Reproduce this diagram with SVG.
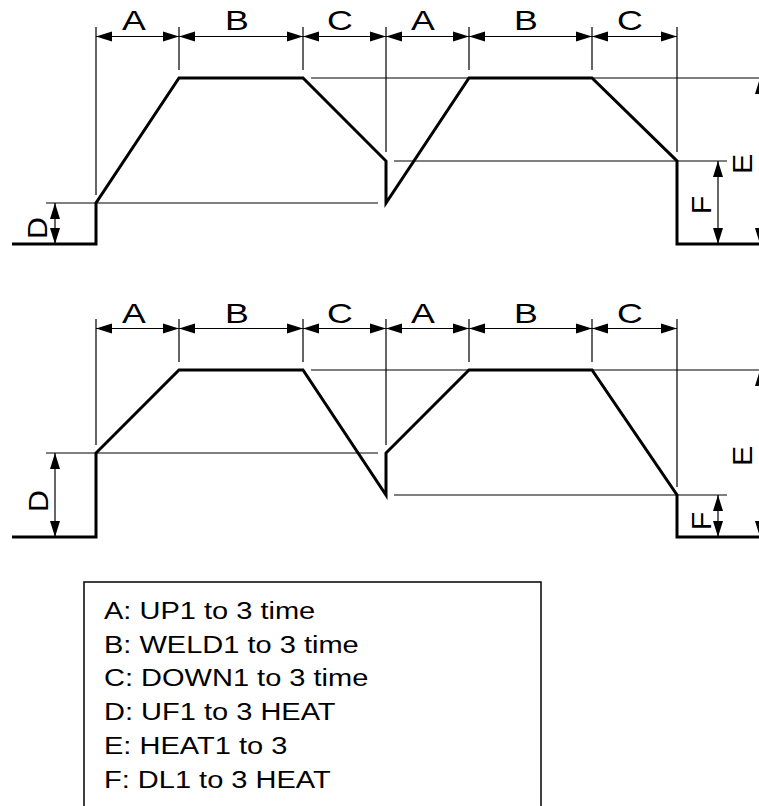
<svg xmlns="http://www.w3.org/2000/svg" width="759" height="806" viewBox="0 0 759 806">
<style>
.wave{fill:none;stroke:#000;stroke-width:3;stroke-linejoin:miter;stroke-linecap:butt}
.thin{fill:none;stroke:#000;stroke-width:1.2}
.dim{fill:none;stroke:#000;stroke-width:1.2;marker-start:url(#arr);marker-end:url(#arr)}
.lbl{font-family:"Liberation Sans",Arial,sans-serif;font-size:27.5px;fill:#000;text-anchor:middle}
.rl{font-family:"Liberation Sans",Arial,sans-serif;font-size:27.5px;fill:#000;text-anchor:middle}
.leg{font-family:"Liberation Sans",Arial,sans-serif;font-size:24.8px;fill:#000}
</style>
<defs>
<marker id="arr" viewBox="0 -5 16 10" refX="16" refY="0" markerWidth="16" markerHeight="10" markerUnits="userSpaceOnUse" orient="auto-start-reverse" overflow="visible">
<path d="M0,-5 L16,0 L0,5 z" fill="#000"/>
</marker>
</defs>

<g id="chart-top">
<g id="connectors-top">
<path class="thin" d="M96,27V195 M179,27V70 M303,27V70 M386,27V152 M469,27V70 M592,27V70 M677,27V152"/>
<path class="thin" d="M46,203H378 M311,78H759 M394,161H727"/>
<line class="dim" x1="96" y1="36.5" x2="179" y2="36.5"/>
<line class="dim" x1="179" y1="36.5" x2="303" y2="36.5"/>
<line class="dim" x1="303" y1="36.5" x2="386" y2="36.5"/>
<line class="dim" x1="386" y1="36.5" x2="469" y2="36.5"/>
<line class="dim" x1="469" y1="36.5" x2="592" y2="36.5"/>
<line class="dim" x1="592" y1="36.5" x2="677" y2="36.5"/>
<line class="dim" x1="55" y1="203" x2="55" y2="244"/>
<line class="dim" x1="718" y1="161" x2="718" y2="244"/>
<line class="dim" x1="760" y1="78" x2="760" y2="244"/>
</g>
<path id="wave-top" class="wave" d="M12,244H96V203L179,78H303L386,161V203L469,78H592L677,161V244H759"/>
<g id="labels-top">
<text class="lbl" transform="translate(134,30) scale(1.3,1)">A</text>
<text class="lbl" transform="translate(237,30) scale(1.3,1)">B</text>
<text class="lbl" transform="translate(340,30) scale(1.3,1)">C</text>
<text class="lbl" transform="translate(423,30) scale(1.3,1)">A</text>
<text class="lbl" transform="translate(526,30) scale(1.3,1)">B</text>
<text class="lbl" transform="translate(630,30) scale(1.3,1)">C</text>
<text class="rl" transform="translate(37,228) rotate(-90) scale(1.1,1)" y="9.8">D</text>
<text class="rl" transform="translate(701,205) rotate(-90) scale(1.1,1)" y="9.8">F</text>
<text class="rl" transform="translate(742,164) rotate(-90) scale(1.1,1)" y="9.8">E</text>
</g>
</g>

<g id="chart-bottom">
<g id="connectors-bottom">
<path class="thin" d="M96,319V445 M179,319V362 M303,319V362 M386,319V445 M469,319V362 M592,319V362 M677,319V487"/>
<path class="thin" d="M46,453H378 M311,370H759 M394,495H727"/>
<line class="dim" x1="96" y1="328.5" x2="179" y2="328.5"/>
<line class="dim" x1="179" y1="328.5" x2="303" y2="328.5"/>
<line class="dim" x1="303" y1="328.5" x2="386" y2="328.5"/>
<line class="dim" x1="386" y1="328.5" x2="469" y2="328.5"/>
<line class="dim" x1="469" y1="328.5" x2="592" y2="328.5"/>
<line class="dim" x1="592" y1="328.5" x2="677" y2="328.5"/>
<line class="dim" x1="55" y1="453" x2="55" y2="537"/>
<line class="dim" x1="718" y1="495" x2="718" y2="537"/>
<line class="dim" x1="760" y1="370" x2="760" y2="537"/>
</g>
<path id="wave-bottom" class="wave" d="M12,537H96V453L179,370H303L386,495V453L469,370H592L677,495V537H759"/>
<g id="labels-bottom">
<text class="lbl" transform="translate(134,323) scale(1.3,1)">A</text>
<text class="lbl" transform="translate(237,323) scale(1.3,1)">B</text>
<text class="lbl" transform="translate(340,323) scale(1.3,1)">C</text>
<text class="lbl" transform="translate(423,323) scale(1.3,1)">A</text>
<text class="lbl" transform="translate(526,323) scale(1.3,1)">B</text>
<text class="lbl" transform="translate(630,323) scale(1.3,1)">C</text>
<text class="rl" transform="translate(38,501) rotate(-90) scale(1.1,1)" y="9.8">D</text>
<text class="rl" transform="translate(701,521) rotate(-90) scale(1.1,1)" y="9.8">F</text>
<text class="rl" transform="translate(742,456) rotate(-90) scale(1.1,1)" y="9.8">E</text>
</g>
</g>

<g id="legend">
<rect x="84" y="582" width="457" height="240" fill="none" stroke="#000" stroke-width="1.5"/>
<text class="leg" transform="translate(104,619) scale(1.17,1)">A: UP1 to 3 time</text>
<text class="leg" transform="translate(104,652.5) scale(1.17,1)">B: WELD1 to 3 time</text>
<text class="leg" transform="translate(104,686) scale(1.17,1)">C: DOWN1 to 3 time</text>
<text class="leg" transform="translate(104,720) scale(1.17,1)">D: UF1 to 3 HEAT</text>
<text class="leg" transform="translate(104,754) scale(1.17,1)">E: HEAT1 to 3</text>
<text class="leg" transform="translate(104,787.5) scale(1.17,1)">F: DL1 to 3 HEAT</text>
</g>
</svg>
